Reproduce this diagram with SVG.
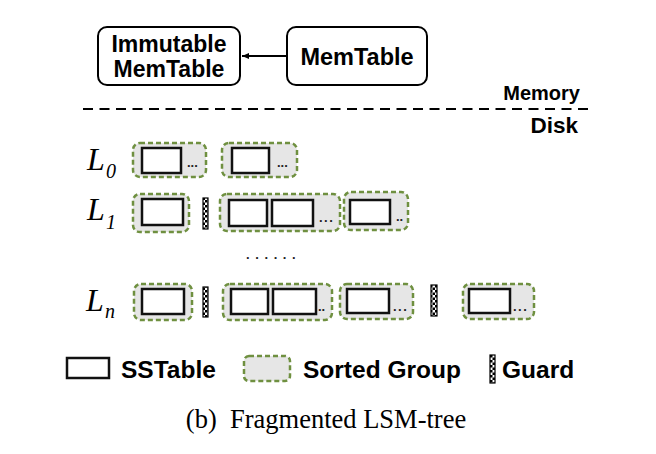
<svg xmlns="http://www.w3.org/2000/svg" width="656" height="454" viewBox="0 0 656 454">
<style>
.box{fill:#fff;stroke:#000;stroke-width:2}
.t{font-family:"Liberation Sans",Arial,sans-serif;font-weight:bold;fill:#000}
.grp{fill:#e6e6e6;stroke:#6f9040;stroke-width:2.5;stroke-dasharray:5 3}
.sst{fill:#fff;stroke:#111;stroke-width:2.5}
.guard{fill:url(#chk);stroke:#000;stroke-width:1.2}
.dots{font-family:"Liberation Sans",Arial,sans-serif;font-weight:bold;font-size:13px;fill:#222}
.L{font-family:"Liberation Serif","Times New Roman",serif;font-style:italic;fill:#000}
</style>
<defs>
<pattern id="chk" patternUnits="userSpaceOnUse" width="5" height="5">
<rect width="5" height="5" fill="#fff"/>
<rect width="2.5" height="2.5" fill="#000"/>
<rect x="2.5" y="2.5" width="2.5" height="2.5" fill="#000"/>
</pattern>
<marker id="ah" markerWidth="8" markerHeight="8" refX="7" refY="4" orient="auto" markerUnits="userSpaceOnUse">
<path d="M0,1 L7,4 L0,7 Z" fill="#000"/>
</marker>
</defs>

<g id="immutable">
<rect class="box" x="98" y="27" width="142" height="58" rx="9"/>
<text class="t" font-size="23" x="169" y="52" text-anchor="middle">Immutable</text>
<text class="t" font-size="23" x="169" y="77" text-anchor="middle">MemTable</text>
</g>
<g id="memtable">
<rect class="box" x="287" y="27" width="140" height="58" rx="9"/>
<text class="t" font-size="23.5" x="357" y="65" text-anchor="middle">MemTable</text>
</g>
<g id="connectors">
<line x1="286" y1="56" x2="242" y2="56" stroke="#000" stroke-width="2" marker-end="url(#ah)"/>
</g>

<text class="t" font-size="20" x="580" y="100" text-anchor="end">Memory</text>
<line x1="83" y1="109" x2="588" y2="109" stroke="#000" stroke-width="2" stroke-dasharray="10 6.5"/>
<text class="t" font-size="22.5" x="578" y="133" text-anchor="end">Disk</text>

<g id="L0">
<text class="L" font-size="32" x="87" y="170">L</text>
<text class="L" font-size="20" x="106" y="178">0</text>
<g id="L0-g1"><rect class="grp" x="133" y="143" width="73" height="34" rx="7"/><rect class="sst" x="142" y="148" width="39" height="25"/><text class="dots" x="187" y="167">...</text></g>
<g id="L0-g2"><rect class="grp" x="222" y="143" width="75" height="34" rx="7"/><rect class="sst" x="232" y="148" width="37" height="25"/><text class="dots" x="277" y="167">...</text></g>
</g>

<g id="L1">
<text class="L" font-size="32" x="87" y="220">L</text>
<text class="L" font-size="20" x="106" y="229">1</text>
<g id="L1-g1"><rect class="grp" x="133" y="194" width="56" height="38" rx="7"/><rect class="sst" x="142" y="199" width="41" height="26"/></g>
<rect id="L1-guard" class="guard" x="203" y="198" width="5" height="31"/>
<g id="L1-g2"><rect class="grp" x="220" y="194" width="120" height="37" rx="7"/><rect class="sst" x="229" y="200" width="38" height="26"/><rect class="sst" x="272" y="200" width="41" height="26"/><text class="dots" x="319" y="222" letter-spacing="1.5">...</text></g>
<g id="L1-g3"><rect class="grp" x="344" y="192" width="64" height="38" rx="7"/><rect class="sst" x="350" y="200" width="40" height="24"/><text class="dots" x="396" y="221">..</text></g>
</g>

<text class="dots" x="246" y="259" letter-spacing="5.6" font-weight="normal">......</text>

<g id="Ln">
<text class="L" font-size="32" x="86" y="311">L</text>
<text class="L" font-size="20" x="105" y="318">n</text>
<g id="Ln-g1"><rect class="grp" x="134" y="284" width="58" height="36" rx="7"/><rect class="sst" x="142" y="289" width="42" height="25"/></g>
<rect id="Ln-guard1" class="guard" x="203" y="287" width="5" height="30"/>
<g id="Ln-g2"><rect class="grp" x="223" y="284" width="109" height="36" rx="7"/><rect class="sst" x="231" y="289" width="37" height="25"/><rect class="sst" x="273" y="289" width="43" height="25"/><text class="dots" x="318" y="311">..</text></g>
<g id="Ln-g3"><rect class="grp" x="340" y="284" width="73" height="35" rx="7"/><rect class="sst" x="347" y="289" width="42" height="24"/><text class="dots" x="393" y="311" letter-spacing="1.5">...</text></g>
<rect id="Ln-guard2" class="guard" x="431" y="285" width="6" height="31"/>
<g id="Ln-g4"><rect class="grp" x="463" y="284" width="71" height="35" rx="7"/><rect class="sst" x="469" y="289" width="41" height="24"/><text class="dots" x="513" y="311" letter-spacing="1.5">...</text></g>
</g>

<g id="legend">
<rect class="sst" x="67" y="358" width="42" height="20"/>
<text class="t" font-size="24.5" x="121" y="378">SSTable</text>
<rect class="grp" x="244" y="356" width="46" height="25" rx="5" stroke-width="2"/>
<text class="t" font-size="24.5" x="303" y="378">Sorted Group</text>
<rect class="guard" x="490" y="355" width="5" height="28"/>
<text class="t" font-size="24.5" x="502" y="378">Guard</text>
</g>

<text x="326" y="428" text-anchor="middle" font-family="'Liberation Serif','Times New Roman',serif" font-size="26.5" xml:space="preserve">(b)  Fragmented LSM-tree</text>
</svg>
